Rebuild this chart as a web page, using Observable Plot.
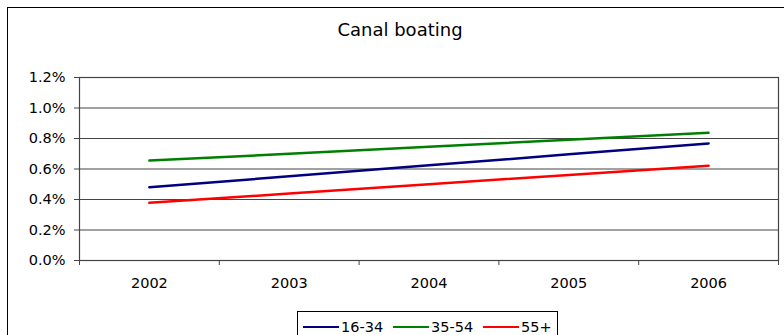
<!DOCTYPE html>
<html>
<head>
<meta charset="utf-8">
<script src="https://cdn.jsdelivr.net/npm/d3@7"></script>
<script src="https://cdn.jsdelivr.net/npm/@observablehq/plot@0.6"></script>
<style>
  html, body { margin: 0; padding: 0; background: #fff; }
  #wrap { position: relative; width: 784px; height: 335px; overflow: hidden; background: #fff; }
  #border { position: absolute; left: 7px; top: 7px; width: 900px; height: 500px; border: 1.5px solid #000; box-sizing: border-box; }
  #title { position: absolute; left: 0; width: 800px; top: 19px; text-align: center; font-family: "DejaVu Sans", sans-serif; font-size: 18px; color: #000; }
  #chart { position: absolute; left: 0; top: 60px; }
  #legend { position: absolute; left: 297px; top: 311px; width: 261px; height: 40px; border: 1px solid #000; box-sizing: border-box; background: #fff;
            font-family: "DejaVu Sans", sans-serif; font-size: 14.5px; color: #000; }
  .item { position: absolute; top: 7px; display: flex; align-items: center; height: 16px; }
  .sw { display: inline-block; width: 36px; height: 0; border-top: 2.5px solid; margin-right: 2px; }
</style>
</head>
<body>
<div id="wrap">
  <div id="border"></div>
  <div id="title">Canal boating</div>
  <div id="chart"></div>
  <div id="legend"></div>
</div>
<script>
const years = [2002, 2003, 2004, 2005, 2006];
const series = ["16-34", "35-54", "55+"];
const colors = ["#000080", "#008000", "#ff0000"];
const v1634 = [0.0048, 0.00552, 0.00624, 0.00696, 0.00768];
const v3554 = [0.00655, 0.0070, 0.00746, 0.00792, 0.00838];
const v55 = [0.00378, 0.00439, 0.0050, 0.00561, 0.00622];
const yTicks = [0, 0.002, 0.004, 0.006, 0.008, 0.010, 0.012];

const values = {"16-34": v1634, "35-54": v3554, "55+": v55};
const data = series.flatMap(s => years.map((yr, i) => ({series: s, year: yr, value: values[s][i]})));
const boundaries = years.map(y => y - 0.5).concat([years[years.length - 1] + 0.5]);

const chart = Plot.plot({
  width: 784,
  height: 230,
  marginTop: 17,
  marginBottom: 30,
  marginLeft: 79,
  marginRight: 6,
  style: {fontFamily: "DejaVu Sans, sans-serif", fontSize: "14px", color: "#000", background: "transparent", overflow: "visible"},
  x: {type: "linear", domain: [years[0] - 0.5, years[years.length - 1] + 0.5]},
  y: {domain: [0, 0.012]},
  color: {domain: series, range: colors},
  marks: [
    Plot.ruleY(yTicks, {stroke: "#444", strokeWidth: 1.2}),
    Plot.frame({stroke: "#444", strokeWidth: 1.2}),
    Plot.axisY({ticks: yTicks, tickFormat: d3.format(".1%"), tickSize: 5, tickPadding: 9, label: null, stroke: "#444", fontSize: 14.5}),
    Plot.axisX({ticks: years, tickFormat: d => String(d), tickSize: 0, tickPadding: 17, label: null, fontSize: 14.5}),
    Plot.axisX({ticks: boundaries, tickFormat: () => "", tickSize: 5, label: null, stroke: "#444"}),
    Plot.line(data, {x: "year", y: "value", stroke: "series", strokeWidth: 2.5})
  ]
});
document.getElementById("chart").appendChild(chart);

const legend = document.getElementById("legend");
const lefts = [5, 95, 185];
series.forEach((s, i) => {
  const it = document.createElement("div");
  it.className = "item";
  it.style.left = lefts[i] + "px";
  const sw = document.createElement("span");
  sw.className = "sw";
  sw.style.borderTopColor = colors[i];
  const t = document.createElement("span");
  t.textContent = s;
  it.appendChild(sw);
  it.appendChild(t);
  legend.appendChild(it);
});
</script>
</body>
</html>
